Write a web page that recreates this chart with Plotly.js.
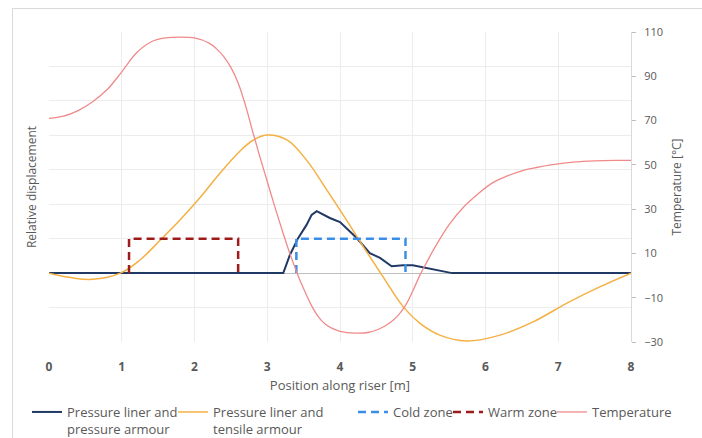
<!DOCTYPE html>
<html>
<head>
<meta charset="utf-8">
<script src="https://cdn.plot.ly/plotly-3.0.1.min.js"></script>
<style>
  html, body { margin: 0; padding: 0; background: #fff; }
  #chart { width: 702px; height: 438px; position: absolute; left: 0; top: 0; }
  #frame { position: absolute; left: 12px; top: 8px; width: 700px; height: 440px; border: 1px solid #d9d9d9; pointer-events: none; }
</style>
</head>
<body>
<div id="chart"></div>
<div id="frame"></div>
<script>
// Pressure liner and pressure armour (relative displacement, grid units)
const plpaX = [0, 3.22, 3.31, 3.42, 3.54, 3.61, 3.68, 3.86, 4.0, 4.23, 4.41, 4.55, 4.71, 4.87, 5.0, 5.24, 5.54, 8];
const plpaY = [0, 0, 0.52, 1.0, 1.4, 1.69, 1.8, 1.6, 1.48, 1.02, 0.58, 0.44, 0.2, 0.23, 0.23, 0.12, 0, 0];

// Pressure liner and tensile armour
const pltaX = [0, 0.3, 0.6, 0.98, 1.25, 1.53, 1.8, 2.08, 2.35, 2.63, 2.8, 2.99, 3.27, 3.54, 3.82, 4.09, 4.32, 4.59, 4.87, 5.1, 5.37, 5.74, 6.2, 6.66, 7.12, 7.57, 8];
const pltaY = [0, -0.13, -0.18, 0, 0.38, 0.96, 1.54, 2.2, 2.9, 3.55, 3.85, 4.01, 3.87, 3.28, 2.41, 1.54, 0.77, -0.1, -0.98, -1.46, -1.8, -1.97, -1.8, -1.41, -0.87, -0.4, 0];

// Cold zone and warm zone outlines
const coldX = [3.4, 3.4, 4.9, 4.9];
const coldY = [0, 1, 1, 0];
const warmX = [1.1, 1.1, 2.6, 2.6];
const warmY = [0, 1, 1, 0];

// Temperature [°C]
const tempX = [0, 0.2, 0.4, 0.6, 0.8, 1.0, 1.2, 1.4, 1.6, 1.8, 2.0, 2.2, 2.3, 2.4, 2.5, 2.6, 2.7, 2.8, 2.9, 3.0, 3.1, 3.2, 3.3, 3.4, 3.5, 3.6, 3.7, 3.8, 3.9, 4.0, 4.2, 4.4, 4.6, 4.7, 4.8, 4.9, 5.0, 5.1, 5.2, 5.3, 5.5, 5.7, 5.9, 6.1, 6.3, 6.5, 6.7, 6.9, 7.2, 7.5, 7.8, 8];
const tempY = [71, 72, 74.5, 78.5, 84, 92, 100.5, 105.5, 107.3, 107.7, 107.3, 105, 102.5, 99, 94, 87, 77, 65, 53.5, 42.5, 31.5, 21, 11, 2, -6, -13, -18.5, -22, -24, -25.2, -26, -25.6, -23.1, -21, -18, -13.5, -7, 0.3, 6.5, 12.5, 23, 31, 37, 42, 45, 47.3, 48.8, 50, 51.2, 51.8, 52, 52];

// Axis ticks
const xTicks = [0, 1, 2, 3, 4, 5, 6, 7, 8];
const tempTicks = [-30, -10, 10, 30, 50, 70, 90, 110];

const FONT = "'Open Sans', 'Noto Sans', sans-serif";
const GREY = '#595959';

const traces = [
  { x: plpaX, y: plpaY, type: 'scatter', mode: 'lines', name: 'Pressure liner and<br>pressure armour',
    line: { color: '#203864', width: 2 }, legend: 'legend' },
  { x: pltaX, y: pltaY, type: 'scatter', mode: 'lines', name: 'Pressure liner and<br>tensile armour',
    line: { color: '#f4b043', width: 1.5, shape: 'spline', smoothing: 1.1 }, legend: 'legend2' },
  { x: coldX, y: coldY, type: 'scatter', mode: 'lines', name: 'Cold zone',
    line: { color: '#3a8ee6', width: 2.5, dash: '8px,5px' }, legend: 'legend3' },
  { x: warmX, y: warmY, type: 'scatter', mode: 'lines', name: 'Warm zone',
    line: { color: '#9e1b1b', width: 2.5, dash: '8px,5px' }, legend: 'legend4' },
  { x: tempX, y: tempY, type: 'scatter', mode: 'lines', name: 'Temperature', yaxis: 'y2',
    line: { color: '#f08a8a', width: 1.3, shape: 'spline', smoothing: 1 }, legend: 'legend5' }
];

function leg(px) {
  return { x: px / 702, y: 1 - 397 / 438, xref: 'container', yref: 'container',
           xanchor: 'left', yanchor: 'top', orientation: 'h', valign: 'top',
           bgcolor: 'rgba(0,0,0,0)', font: { family: FONT, size: 13, color: GREY } };
}

const layout = {
  width: 702, height: 438,
  margin: { l: 49, r: 71, t: 32, b: 96, autoexpand: false },
  paper_bgcolor: '#fff', plot_bgcolor: '#fff',
  font: { family: FONT, color: GREY },
  showlegend: true,
  legend: leg(27),
  legend2: leg(173),
  legend3: leg(353),
  legend4: leg(448),
  legend5: leg(552),
  xaxis: {
    range: [0, 8], tickvals: xTicks, showgrid: true, gridcolor: '#ececec', zeroline: false,
    showline: false, ticks: '', tickfont: { family: FONT, size: 12, color: GREY, weight: 'bold' },
    ticklabelstandoff: 16,
    title: { text: 'Position along riser [m]', font: { family: FONT, size: 13, color: GREY }, standoff: 6 }
  },
  yaxis: {
    range: [-2, 7], dtick: 1, showticklabels: false, showgrid: true, gridcolor: '#ececec',
    zeroline: true, zerolinecolor: '#bfbfbf', zerolinewidth: 1, showline: false, ticks: '',
    title: { text: 'Relative displacement', font: { family: FONT, size: 12, color: GREY }, standoff: 8 }
  },
  yaxis2: {
    overlaying: 'y', side: 'right', range: [-30, 110], tickvals: tempTicks,
    showgrid: false, zeroline: false, showline: true, linecolor: '#d9d9d9', linewidth: 1,
    ticks: 'outside', ticklen: 4, tickcolor: '#bfbfbf', ticklabelstandoff: 6,
    tickfont: { family: FONT, size: 11, color: GREY },
    title: { text: 'Temperature [°C]', font: { family: FONT, size: 12, color: GREY }, standoff: 10 }
  }
};

Plotly.newPlot('chart', traces, layout, { displayModeBar: false, responsive: false });
</script>
</body>
</html>
